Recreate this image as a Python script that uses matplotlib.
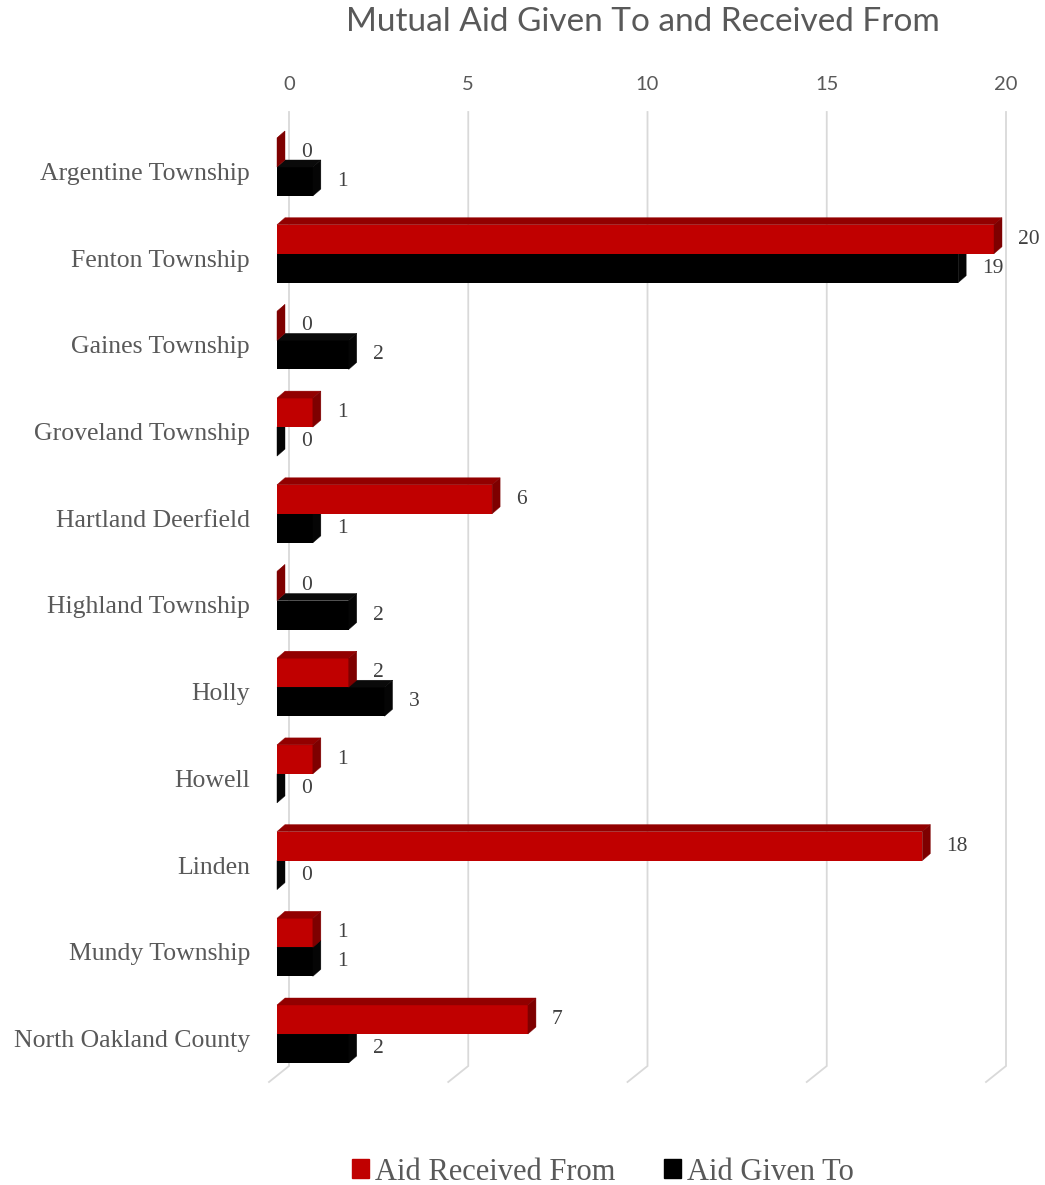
import matplotlib
matplotlib.use("Agg")
import matplotlib.pyplot as plt
from matplotlib.patches import Polygon, Patch

categories = ["Argentine Township", "Fenton Township", "Gaines Township",
              "Groveland Township", "Hartland Deerfield", "Highland Township",
              "Holly", "Howell", "Linden", "Mundy Township",
              "North Oakland County"]
received = [0, 20, 0, 1, 6, 0, 2, 1, 18, 1, 7]
given = [1, 19, 2, 0, 1, 2, 3, 0, 0, 1, 2]
ticks = [0, 5, 10, 15, 20]

W, H = 1045, 1185
X0, PX = 277, 35.85      # pixel of value 0 on the bar fronts, pixels per unit
Y0, ROW = 167, 86.7      # pixel of first row boundary, pixels per row

def px_x(p):
    return p / PX

def px_y(p):
    return p / ROW

def row_y(p):
    # absolute pixel row -> data y
    return (p - Y0) / ROW

SERIF = ["Liberation Serif", "DejaVu Serif"]
SANS = ["Lato", "DejaVu Sans"]
TXT = "#595959"

fig = plt.figure(figsize=(W / 100, H / 100), dpi=100)
ax = fig.add_axes([0, 0, 1, 1])
ax.set_xlim(-X0 / PX, (W - X0) / PX)
ax.set_ylim((H - Y0) / ROW, -Y0 / ROW)
ax.axis("off")

# back wall grid + floor lines
g_off = px_x(12)
for v in ticks:
    xb = v + g_off
    yt, yb = row_y(112), row_y(1066)
    ax.plot([xb, xb, xb - px_x(20)], [yt, yb, yb + px_y(16)],
            color="#D9D9D9", lw=1.3, zorder=1, solid_joinstyle="miter")
    ax.text(xb, row_y(85), str(v), ha="center", va="center",
            fontsize=14.5, color=TXT, family=SANS)

ax.text((643 - X0) / PX, row_y(22), "Mutual Aid Given To and Received From",
        ha="center", va="center", fontsize=24, color=TXT, family=SANS)

for i, name in enumerate(categories):
    ax.text(px_x(-27), i + px_y(7), name, ha="right", va="center",
            fontsize=18.5, color=TXT, family=SERIF)

bh = px_y(29)
ddx, ddy = px_x(8), px_y(7)


def draw_series(vals, offset, front, top, side, z):
    ys = [i + offset for i in range(len(vals))]
    ax.barh(ys, vals, height=bh, left=0, color=front, lw=0, zorder=z)
    for y, v in zip(ys, vals):
        y0, y1 = y - bh / 2, y + bh / 2
        ax.add_patch(Polygon([(0, y0), (v, y0), (v + ddx, y0 - ddy), (ddx, y0 - ddy)],
                             closed=True, fc=top, ec=top, lw=0.3, zorder=z))
        ax.add_patch(Polygon([(v, y0), (v + ddx, y0 - ddy), (v + ddx, y1 - ddy), (v, y1)],
                             closed=True, fc=side, ec=side, lw=0.3, zorder=z))
        ax.text(v + px_x(24), y, str(v), ha="left", va="center",
                fontsize=15.5, color="#404040", family=SERIF, zorder=z + 1)


# given sits below received, drawn first so the red bars cover its top face
draw_series(given, bh / 2, "#000000", "#0A0A0A", "#050505", 2)
draw_series(received, -bh / 2, "#C00000", "#920000", "#7E0000", 4)

handles = [Patch(color="#C00000", label="Aid Received From"),
           Patch(color="#000000", label="Aid Given To")]
fig.legend(handles=handles, loc="center", bbox_to_anchor=(603 / W, 1 - 1172 / H),
           ncol=2, frameon=False, handlelength=0.55, handleheight=0.55,
           handletextpad=0.2, columnspacing=1.6,
           prop={"family": SERIF, "size": 22}, labelcolor=TXT)

fig.savefig("out.png", dpi=100)
